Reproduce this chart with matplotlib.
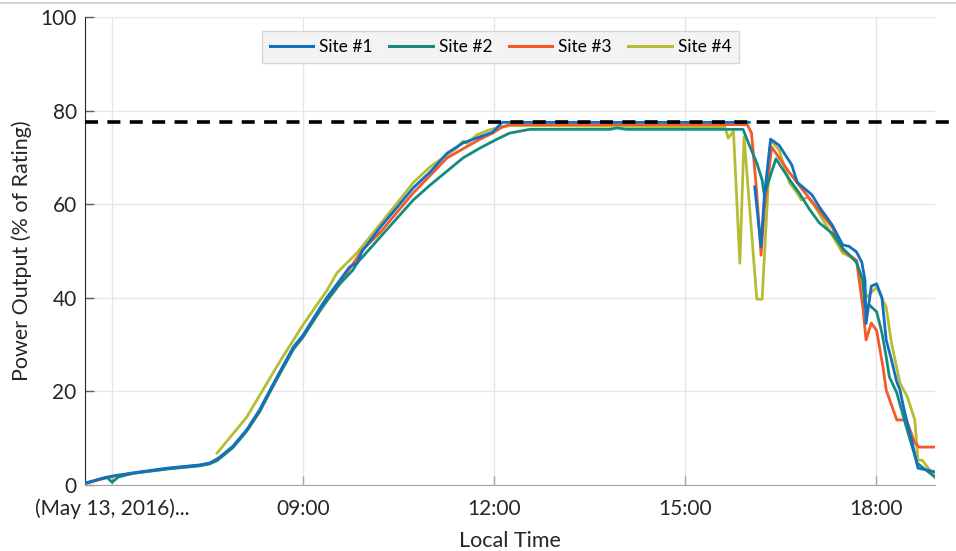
import numpy as np
import pandas as pd
import matplotlib
matplotlib.use('Agg')
import matplotlib.pyplot as plt
from matplotlib.lines import Line2D

plt.rcParams['font.family'] = ['Lato', 'DejaVu Sans']

DAY = "2016-05-13 "

# Site #1
t1 = ["05:35", "05:49", "06:00", "06:20", "06:52", "07:23", "07:32", "07:39", "07:45", "07:54",
      "08:07", "08:19", "08:29", "08:38", "08:51", "09:00", "09:16", "09:23", "09:35", "09:44",
      "09:47", "09:51", "09:54", "09:56", "10:13", "10:29", "10:44", "11:00", "11:16", "11:31",
      "11:47", "11:59", "12:08", "16:01", "16:03", "16:06", "16:12", "16:15", "16:21", "16:29",
      "16:41", "16:46", "17:00", "17:07", "17:19", "17:29", "17:35", "17:42", "17:47", "17:50",
      "17:51", "17:56", "18:01", "18:06", "18:10", "18:15", "18:20", "18:23", "18:27", "18:34",
      "18:40", "18:56"]
v1 = [0.4, 1.3, 1.9, 2.6, 3.6, 4.3, 4.7, 5.5, 6.6, 8.3,
      11.8, 16.0, 20.3, 24.1, 29.5, 32.0, 37.8, 40.2, 43.8, 46.6,
      47.0, 47.4, 49.0, 50.0, 55.1, 59.4, 63.5, 66.9, 70.9, 73.1,
      74.4, 75.4, 77.5, 77.5, np.nan, 63.7, 50.9, 61.5, 73.9, 72.6,
      68.4, 64.7, 62.0, 59.4, 55.6, 51.3, 51.0, 49.8, 47.6, 43.8,
      34.5, 42.5, 43.0, 40.0, 31.0, 26.7, 22.0, 20.3, 16.0, 9.6,
      3.6, 2.8]

# Site #2
t2 = ["05:35", "05:49", "05:55", "06:00", "06:06", "06:20", "06:52", "07:23", "07:32", "07:39",
      "07:45", "07:54", "08:07", "08:19", "08:29", "08:38", "08:51", "09:00", "09:16", "09:23",
      "09:35", "09:47", "09:51", "10:13", "10:44", "11:00", "11:31", "11:47", "12:03", "12:15",
      "12:34", "13:50", "13:56", "14:05", "15:55", "16:01", "16:08", "16:13", "16:15", "16:26",
      "16:39", "16:48", "16:58", "17:07", "17:19", "17:29", "17:42", "17:48", "17:50", "17:54",
      "18:01", "18:06", "18:10", "18:13", "18:20", "18:29", "18:39", "18:56"]
v2 = [0.4, 1.3, 1.7, 0.6, 1.7, 2.5, 3.4, 4.1, 4.5, 5.2,
      6.3, 8.0, 11.5, 15.6, 19.9, 23.7, 29.0, 31.6, 37.2, 39.5,
      43.0, 45.9, 47.4, 53.0, 60.9, 64.1, 69.9, 72.0, 73.9, 75.2,
      76.0, 76.0, 76.3, 76.0, 76.0, 72.6, 68.8, 65.2, 62.0, 69.7,
      65.2, 62.4, 58.8, 56.0, 53.8, 50.6, 47.6, 43.8, 38.0, 38.5,
      37.0, 32.5, 27.4, 23.1, 19.7, 12.4, 4.7, 1.7]

# Site #3
t3 = ["05:35", "05:49", "06:00", "06:20", "06:52", "07:23", "07:32", "07:45", "07:54", "08:07",
      "08:19", "08:29", "08:38", "08:51", "09:00", "09:16", "09:35", "09:56", "10:13", "10:44",
      "11:16", "11:47", "11:59", "12:08", "12:15", "15:59", "16:03", "16:08", "16:12", "16:15",
      "16:22", "16:39", "16:48", "17:19", "17:29", "17:42", "17:48", "17:51", "17:56", "18:01",
      "18:07", "18:10", "18:20", "18:29", "18:37", "18:41", "18:56"]
v3 = [0.3, 1.2, 1.8, 2.5, 3.5, 4.2, 4.6, 6.4, 8.1, 11.6,
      15.7, 20.0, 23.8, 29.1, 31.6, 37.3, 43.2, 50.2, 54.0, 62.4,
      69.9, 73.9, 75.2, 76.5, 77.0, 77.0, 75.2, 62.4, 49.1, 58.8,
      72.2, 66.7, 64.0, 55.1, 50.2, 48.0, 38.0, 31.0, 34.6, 33.0,
      25.2, 20.3, 13.9, 13.9, 9.0, 8.1, 8.1]

# Site #4
t4 = ["07:39", "08:07", "08:38", "09:00", "09:23", "09:32", "09:51", "09:56", "10:29", "10:44",
      "11:00", "11:25", "11:31", "11:35", "11:44", "11:56", "12:08", "12:15", "15:38", "15:41",
      "15:46", "15:52", "15:56", "16:08", "16:13", "16:21", "16:29", "16:39", "16:46", "16:50",
      "16:56", "17:02", "17:29", "17:42", "17:48", "17:52", "18:01", "18:10", "18:15", "18:23",
      "18:30", "18:37", "18:40", "18:44", "18:56"]
v4 = [6.8, 14.5, 26.3, 34.2, 41.7, 45.3, 49.6, 51.0, 60.3, 64.6,
      68.0, 72.0, 73.5, 73.0, 74.8, 75.9, 76.5, 76.8, 76.5, 74.1,
      75.6, 47.4, 74.4, 39.7, 39.7, 73.7, 71.6, 64.5, 62.4, 60.9,
      61.5, 59.8, 49.6, 48.0, 41.7, 40.2, 42.3, 38.0, 30.3, 21.8,
      18.8, 13.9, 5.3, 5.3, 1.7]

limit = 77.6
sites = ["Site #1", "Site #2", "Site #3", "Site #4"]
colors = ["#1170c0", "#168a7e", "#f4592a", "#b6bd34"]
tick_times = ["06:00", "09:00", "12:00", "15:00", "18:00"]
tick_labels = ["(May 13, 2016)...", "09:00", "12:00", "15:00", "18:00"]


def to_dt(ts):
    return pd.to_datetime([DAY + t for t in ts])


fig = plt.figure(figsize=(9.56, 5.51), dpi=100)
ax = fig.add_axes([0.0889, 0.1198, 0.8891, 0.8493])

series = [(t1, v1), (t2, v2), (t3, v3), (t4, v4)]
handles = [None] * 4
for i in [3, 2, 1, 0]:
    t, v = series[i]
    h, = ax.plot(to_dt(t), v, color=colors[i], lw=2.0, label=sites[i], zorder=3 + (3 - i))
    handles[i] = h

ax.axhline(limit, xmin=0, xmax=1.018, color='black', lw=2.6, ls=(0, (3.6, 2.6)),
           clip_on=False, zorder=10)

ax.set_xlim(pd.Timestamp(DAY + "05:34:30"), pd.Timestamp(DAY + "18:56"))
ax.set_ylim(0, 100)
ax.set_xticks(to_dt(tick_times))
ax.set_xticklabels(tick_labels)
ax.set_yticks([0, 20, 40, 60, 80, 100])

ax.grid(True, color='#e6e6e6', lw=1)
ax.set_axisbelow(True)
for s in ['top', 'right']:
    ax.spines[s].set_visible(False)
ax.spines['left'].set_color('#262626')
ax.spines['bottom'].set_color('#a6a6a6')
ax.tick_params(direction='in', length=6.5, width=1, colors='#262626', labelsize=15, pad=6)
ax.tick_params(axis='x', color='#a6a6a6', pad=10)
ax.tick_params(axis='y', color='#606060')

ax.set_xlabel("Local Time", fontsize=15.5, color='#262626', labelpad=8)
ax.set_ylabel("Power Output (% of Rating)", fontsize=15.5, color='#262626', labelpad=6)

leg = ax.legend(handles=handles, loc='upper center', bbox_to_anchor=(0.489, 0.988), ncol=4,
                fontsize=12.5, frameon=True, fancybox=False, handlelength=2.5,
                handletextpad=0.35, columnspacing=0.95, borderpad=0.45)
leg.get_frame().set_facecolor('#f3f3f3')
leg.get_frame().set_edgecolor('#d6d6d6')
leg.get_frame().set_alpha(1)
for line in leg.get_lines():
    line.set_linewidth(2.2)

fig.add_artist(Line2D([0, 1], [1 - 3 / 551, 1 - 3 / 551], color='#c8c8c8', lw=1.2))

fig.savefig('out.png', dpi=100)
